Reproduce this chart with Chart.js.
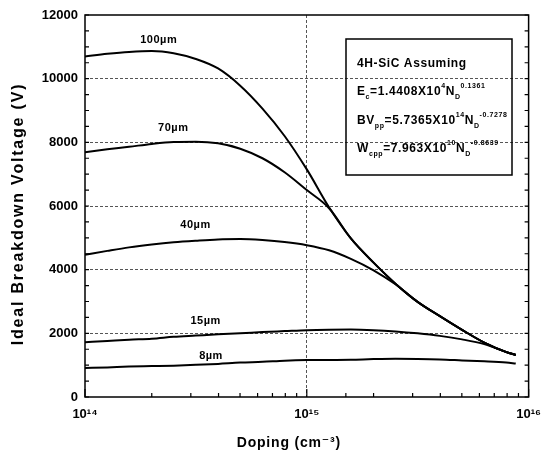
<!DOCTYPE html>
<html>
<head>
<meta charset="utf-8">
<script src="https://cdn.jsdelivr.net/npm/chart.js@4.4.1/dist/chart.umd.min.js"></script>
<style>
  html, body { margin: 0; padding: 0; background: #fff; }
  #wrap { width: 551px; height: 464px; }
</style>
</head>
<body>
<div id="wrap"><canvas id="bvChart"></canvas></div>
<script>
const doping = [1e14, 1.26e14, 1.58e14, 2e14, 2.51e14, 3.16e14, 3.98e14, 5.01e14, 6.31e14, 7.94e14,
                1e15, 1.26e15, 1.58e15, 2e15, 2.51e15, 3.16e15, 3.98e15, 5.01e15, 6.31e15, 7.94e15, 8.75e15];

// ideal breakdown voltage (V) for each drift layer thickness
const bv100 = [10700, 10780, 10840, 10870, 10800, 10620, 10320, 9780, 9060, 8200, 7150, 5960, 4980, 4220, 3560, 2990, 2540, 2110, 1710, 1410, 1320];
const bv70  = [7690, 7780, 7860, 7950, 8010, 8020, 7970, 7800, 7500, 7060, 6500, 5930, 4980, 4220, 3560, 2990, 2540, 2110, 1710, 1410, 1320];
const bv40  = [4470, 4590, 4700, 4790, 4860, 4910, 4950, 4960, 4930, 4870, 4770, 4610, 4340, 3980, 3540, 2985, 2540, 2110, 1710, 1410, 1320];
const bv15  = [1720, 1760, 1800, 1830, 1890, 1930, 1970, 2000, 2040, 2070, 2100, 2115, 2120, 2100, 2060, 2000, 1920, 1810, 1660, 1410, 1320];
const bv8   = [910, 930, 955, 970, 985, 1010, 1040, 1080, 1105, 1140, 1160, 1165, 1170, 1190, 1200, 1195, 1180, 1150, 1120, 1080, 1050];

const thickness = ['100µm', '70µm', '40µm', '15µm', '8µm'];
const series = [bv100, bv70, bv40, bv15, bv8];

const yTitle = 'Ideal Breakdown Voltage (V)';
const xTitle = 'Doping (cm⁻³)';

const yMax = 12000;
const xMin = 1e14, xMax = 1e16;

const FONT = "'Liberation Sans', Arial, 'DejaVu Sans', sans-serif";
const SUP = { '0': '⁰', '1': '¹', '2': '²', '3': '³', '4': '⁴', '5': '⁵', '6': '⁶', '7': '⁷', '8': '⁸', '9': '⁹' };

function isDecade(v) {
    const e = Math.log10(v);
    return Math.abs(e - Math.round(e)) < 1e-6;
}

// where the curve names sit (data coords)
const labelAt = [[2.15e14, 11200], [2.5e14, 8450], [3.15e14, 5400], [3.5e14, 2400], [3.7e14, 1290]];

function drawRich(ctx, parts, x, y) {
    parts.forEach(([txt, kind]) => {
        if (kind === 'n') {
            ctx.font = 'bold 12px ' + FONT;
            ctx.fillText(txt, x, y);
        } else {
            ctx.font = 'bold 7px ' + FONT;
            ctx.fillText(txt, x, kind === 'sub' ? y + 4 : y - 7);
        }
        x += ctx.measureText(txt).width;
    });
}

const extras = {
    id: 'extras',
    afterDraw(chart) {
        const ctx = chart.ctx;
        const { left, right, top, bottom } = chart.chartArea;
        const xs = chart.scales.x, ys = chart.scales.y;
        ctx.save();
        ctx.strokeStyle = '#000';
        ctx.lineWidth = 1.5;
        ctx.strokeRect(left, top, right - left, bottom - top);

        // inward tick marks
        ctx.lineWidth = 1.2;
        ctx.beginPath();
        ys.ticks.forEach(t => {
            const p = ys.getPixelForValue(t.value);
            ctx.moveTo(left, p); ctx.lineTo(left + 4, p);
            ctx.moveTo(right, p); ctx.lineTo(right - 4, p);
        });
        xs.ticks.forEach(t => {
            const p = xs.getPixelForValue(t.value);
            const len = isDecade(t.value) ? 8 : 4;
            ctx.moveTo(p, bottom); ctx.lineTo(p, bottom - len);
        });
        ctx.stroke();

        ctx.fillStyle = '#000';

        // axis titles
        ctx.textAlign = 'center';
        ctx.textBaseline = 'middle';
        ctx.font = 'bold 16px ' + FONT;
        ctx.letterSpacing = '1.8px';
        ctx.save();
        ctx.translate(19, (top + bottom) / 2 + 8);
        ctx.rotate(-Math.PI / 2);
        ctx.fillText(yTitle, 0, 0);
        ctx.restore();
        ctx.font = 'bold 14px ' + FONT;
        ctx.letterSpacing = '0.8px';
        ctx.fillText(xTitle, (left + right) / 2 - 18, 443);

        // curve names
        ctx.font = 'bold 11px ' + FONT;
        ctx.letterSpacing = '0.5px';
        thickness.forEach((name, i) => {
            ctx.fillText(name, xs.getPixelForValue(labelAt[i][0]), ys.getPixelForValue(labelAt[i][1]));
        });

        // model box
        const bx = left + 261, by = top + 24;
        ctx.lineWidth = 1.5;
        ctx.strokeRect(bx, by, 166, 136);
        ctx.textAlign = 'left';
        ctx.textBaseline = 'alphabetic';
        ctx.letterSpacing = '0.6px';
        const tx = bx + 11;
        drawRich(ctx, [['4H-SiC Assuming', 'n']], tx, by + 28);
        drawRich(ctx, [['E', 'n'], ['c', 'sub'], ['=1.4408X10', 'n'], ['4', 'sup'], ['N', 'n'], ['D', 'sub'], ['0.1361', 'sup']], tx, by + 56);
        drawRich(ctx, [['BV', 'n'], ['pp', 'sub'], ['=5.7365X10', 'n'], ['14', 'sup'], ['N', 'n'], ['D', 'sub'], ['-0.7278', 'sup']], tx, by + 85);
        drawRich(ctx, [['W', 'n'], ['cpp', 'sub'], ['=7.963X10', 'n'], ['10', 'sup'], ['N', 'n'], ['D', 'sub'], ['-0.8639', 'sup']], tx, by + 113);
        ctx.restore();
    }
};

const ctx = document.getElementById('bvChart').getContext('2d');

new Chart(ctx, {
    type: 'line',
    data: {
        datasets: series.map((vals, i) => ({
            label: thickness[i],
            data: vals.map((v, j) => ({ x: doping[j], y: v })),
            borderColor: '#000',
            borderWidth: 2,
            pointRadius: 0,
            fill: false,
            cubicInterpolationMode: 'monotone'
        }))
    },
    options: {
        responsive: true,
        maintainAspectRatio: false,
        animation: false,
        layout: { padding: { left: 0, right: 16, top: 15, bottom: 0 } },
        plugins: {
            legend: { display: false },
            tooltip: { enabled: false }
        },
        scales: {
            x: {
                type: 'logarithmic',
                min: xMin,
                max: xMax,
                afterFit: s => { s.height = 67; },
                border: { display: false, dash: [3, 2] },
                grid: {
                    drawTicks: false,
                    lineWidth: 1,
                    color: c => (c.tick && Math.abs(Math.log10(c.tick.value) - 15) < 1e-6) ? '#555' : 'rgba(0,0,0,0)'
                },
                ticks: {
                    autoSkip: false,
                    maxRotation: 0,
                    padding: 10,
                    color: '#000',
                    font: { family: FONT, size: 13, weight: 'bold' },
                    callback: v => isDecade(v) ? '10' + String(Math.round(Math.log10(v))).split('').map(d => SUP[d]).join('') : ''
                },
                title: { display: false, text: xTitle }
            },
            y: {
                min: 0,
                max: yMax,
                afterFit: s => { s.width = 85; },
                border: { display: false, dash: [3, 2] },
                grid: {
                    drawTicks: false,
                    lineWidth: 1,
                    color: c => (c.tick && c.tick.value % 2000 === 0 && c.tick.value > 0 && c.tick.value < yMax) ? '#555' : 'rgba(0,0,0,0)'
                },
                ticks: {
                    stepSize: 500,
                    autoSkip: false,
                    padding: 7,
                    color: '#000',
                    font: { family: FONT, size: 13, weight: 'bold' },
                    callback: v => v % 2000 === 0 ? String(v) : ''
                },
                title: { display: false, text: yTitle }
            }
        }
    },
    plugins: [extras]
});
</script>
</body>
</html>
